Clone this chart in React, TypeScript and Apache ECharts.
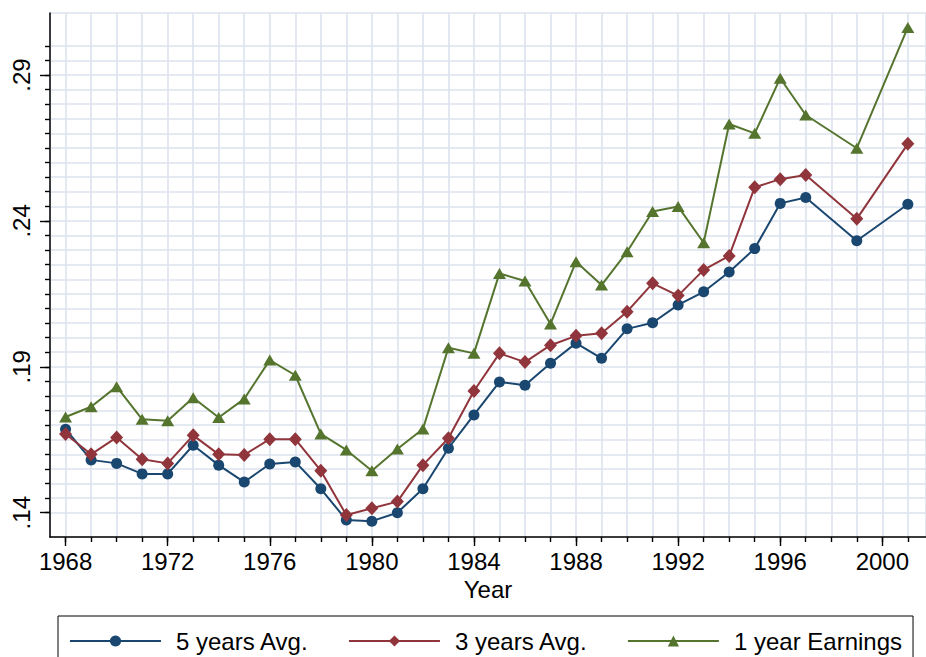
import React, { useEffect, useRef } from "react";
import * as echarts from "echarts";

const years = [
  1968, 1969, 1970, 1971, 1972, 1973, 1974, 1975, 1976, 1977, 1978, 1979, 1980,
  1981, 1982, 1983, 1984, 1985, 1986, 1987, 1988, 1989, 1990, 1991, 1992, 1993,
  1994, 1995, 1996, 1997, 1999, 2001,
];

const avg5 = [
  0.1686, 0.1581, 0.1569, 0.1533, 0.1533, 0.1631, 0.1563, 0.1505, 0.1567, 0.1574,
  0.1482, 0.1375, 0.1371, 0.14, 0.1482, 0.1621, 0.1735, 0.1848, 0.1837, 0.1912,
  0.1981, 0.1929, 0.203, 0.2051, 0.2112, 0.2157, 0.2225, 0.2305, 0.246, 0.248,
  0.2332, 0.2457,
];

const avg3 = [
  0.167, 0.16, 0.1658, 0.1583, 0.1569, 0.1665, 0.16, 0.1598, 0.1652, 0.1652,
  0.1544, 0.1392, 0.1415, 0.1438, 0.1563, 0.1655, 0.1817, 0.1946, 0.1916, 0.1974,
  0.2006, 0.2015, 0.2089, 0.2186, 0.2144, 0.2232, 0.228, 0.2515, 0.2543, 0.2557,
  0.2407, 0.2664,
];

const earn1 = [
  0.1728, 0.1763, 0.1832, 0.172, 0.1715, 0.1794, 0.1726, 0.179, 0.1923, 0.1871,
  0.167, 0.1615, 0.1544, 0.1618, 0.1687, 0.1965, 0.1946, 0.222, 0.2194, 0.2047,
  0.226, 0.218, 0.2294, 0.2432, 0.2449, 0.2325, 0.2732, 0.27, 0.2889, 0.2763,
  0.2649, 0.3063,
];

const seriesNames = ["5 years Avg.", "3 years Avg.", "1 year Earnings"];
const majorYears = [1968, 1972, 1976, 1980, 1984, 1988, 1992, 1996, 2000];
const minorYears = Array.from({ length: 34 }, (_, i) => 1968 + i);
const majorY = [0.14, 0.19, 0.24, 0.29];
const minorY = Array.from({ length: 33 }, (_, i) => Number((0.14 + i * 0.005).toFixed(3)));

const FONT = "'Liberation Sans', Arial, Helvetica, sans-serif";
const GRID = "#dde2ee";
const COLORS = ["#1a476f", "#90353b", "#55752f"];

export default function App() {
  const ref = useRef<HTMLDivElement>(null);
  useEffect(() => {
    const chart = echarts.init(ref.current!, null, { renderer: "svg" });
    const xMin = 1967.39;
    const xMax = 1967.39 + 880 / 25.64;
    const yMin = 0.13167;
    const yMax = 0.13167 + 524 / 2918;
    const pair = (vals: number[]) => years.map((y, i) => [y, vals[i]]);
    const tickStyle = { color: "#000", width: 1.4 };
    chart.setOption({
      animation: false,
      backgroundColor: "#fff",
      textStyle: { fontFamily: FONT },
      grid: {
        left: 50,
        top: 13,
        width: 880,
        height: 524,
        show: true,
        borderColor: GRID,
        borderWidth: 1.6,
        backgroundColor: "#fff",
      },
      xAxis: [
        {
          type: "value",
          min: xMin,
          max: xMax,
          position: "bottom",
          name: "Year",
          nameLocation: "middle",
          nameGap: 38,
          nameTextStyle: { fontSize: 24, color: "#000", fontFamily: FONT },
          axisLine: { show: true, lineStyle: { color: "#000", width: 1.5 } },
          axisTick: { show: true, length: 9, customValues: majorYears, lineStyle: tickStyle },
          axisLabel: {
            customValues: majorYears,
            fontSize: 24,
            color: "#000",
            fontFamily: FONT,
            margin: 12,
            formatter: (v: number) => String(Math.round(v)),
          },
          splitLine: { show: false },
        },
        {
          type: "value",
          min: xMin,
          max: xMax,
          position: "bottom",
          axisLine: { show: false },
          axisTick: { show: true, length: 5, customValues: minorYears, lineStyle: tickStyle },
          axisLabel: { show: false },
          splitLine: { show: true, lineStyle: { color: GRID, width: 1.6 } },
        },
      ],
      yAxis: [
        {
          type: "value",
          min: yMin,
          max: yMax,
          position: "left",
          axisLine: { show: true, lineStyle: { color: "#000", width: 1.5 } },
          axisTick: { show: true, length: 10, customValues: majorY, lineStyle: tickStyle },
          axisLabel: {
            customValues: majorY,
            rotate: 90,
            fontSize: 24,
            color: "#000",
            fontFamily: FONT,
            margin: 17,
            formatter: (v: number) => v.toFixed(2).replace(/^0/, ""),
          },
          splitLine: { show: false },
        },
        {
          type: "value",
          min: yMin,
          max: yMax,
          position: "left",
          axisLine: { show: false },
          axisTick: { show: true, length: 5, customValues: minorY, lineStyle: tickStyle },
          axisLabel: { show: false },
          splitLine: { show: true, lineStyle: { color: GRID, width: 1.6 } },
        },
      ],
      legend: {
        left: 58,
        top: 616,
        orient: "horizontal",
        itemWidth: 91,
        itemHeight: 14,
        itemGap: 39,
        padding: [13, 11, 14, 11],
        borderColor: "#000",
        borderWidth: 1,
        textStyle: { fontSize: 24, color: "#000", fontFamily: FONT, padding: [0, 0, 0, 10] },
        data: seriesNames,
      },
      series: [
        {
          name: seriesNames[0],
          type: "line",
          data: pair(avg5),
          symbol: "circle",
          symbolSize: 11,
          lineStyle: { color: COLORS[0], width: 2 },
          itemStyle: { color: COLORS[0] },
          z: 3,
        },
        {
          name: seriesNames[1],
          type: "line",
          data: pair(avg3),
          symbol: "diamond",
          symbolSize: [13, 14],
          lineStyle: { color: COLORS[1], width: 2 },
          itemStyle: { color: COLORS[1] },
          z: 4,
        },
        {
          name: seriesNames[2],
          type: "line",
          data: pair(earn1),
          symbol: "triangle",
          symbolSize: [13, 11],
          lineStyle: { color: COLORS[2], width: 2 },
          itemStyle: { color: COLORS[2] },
          z: 5,
        },
      ],
    });
    return () => chart.dispose();
  }, []);
  return (
    <div
      ref={ref}
      style={{ position: "fixed", left: 0, top: 0, width: 926, height: 657, background: "#fff" }}
    />
  );
}
